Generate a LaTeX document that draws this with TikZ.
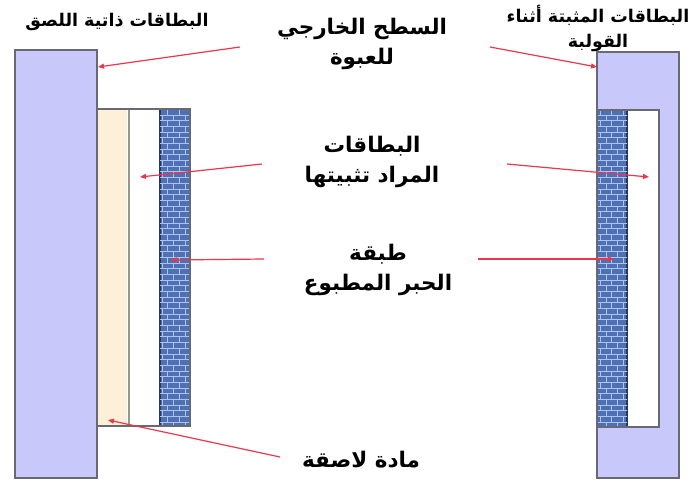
\documentclass[tikz,border=0pt]{standalone}
\usepackage{fontspec}
\newfontfamily\arabicfont[Script=Arabic]{DejaVu Sans}
\TeXXeTstate=1
\usetikzlibrary{arrows.meta,patterns}
\definecolor{lav}{RGB}{200,200,250}
\definecolor{frame}{RGB}{105,105,115}
\definecolor{cream}{RGB}{253,240,216}
\definecolor{inkblue}{RGB}{80,112,180}
\definecolor{inklight}{RGB}{170,195,240}
\definecolor{arrowred}{RGB}{235,55,75}
\tikzset{
  lbl/.style={font=\arabicfont\bfseries\fontsize{21.5}{30}\selectfont, align=center, text=black, inner sep=0pt},
  small/.style={font=\arabicfont\bfseries\fontsize{17.5}{25}\selectfont, align=center, text=black, inner sep=0pt},
  outer/.style={fill=lav, draw=frame, line width=1.6pt},
  part/.style={draw=frame, line width=1.2pt},
  ink/.style={fill=inkblue, draw={rgb,255:red,40;green,55;blue,90}, line width=1.2pt,
    postaction={pattern=bricks, pattern color=inklight}},
  pointer/.style={draw=arrowred, line width=1.2pt, -{Triangle[length=6pt,width=5pt]}},
}
\begin{document}
\begin{tikzpicture}[x=1pt,y=-1pt]
\useasboundingbox (0,0) rectangle (692,482);
\fill[white] (0,0) rectangle (692,482);
% left assembly
\draw[outer] (15,50) rectangle (97,478);
\fill[cream] (97,109) rectangle (127,426);
\fill[white] (128,109) rectangle (160,426);
\draw[draw={rgb,255:red,150;green,150;blue,140}, line width=2pt] (128.5,109) -- (128.5,426);
\draw[ink] (160,109) rectangle (190,426);
\draw[part] (97,109) rectangle (190,426);
% right assembly
\draw[outer] (597,52) rectangle (679,478);
\fill[white] (627,110) rectangle (659,427);
\draw[ink] (597,110) rectangle (627,427);
\draw[part] (597,110) rectangle (659,427);
% texts
\node[small] (t1) at (117,22) {\beginR البطاقات ذاتية اللصق\endR};
\node[lbl] (t2) at (362,44) {\beginR السطح الخارجي\endR\\\beginR للعبوة\endR};
\node[small] (t3) at (598,28) {\beginR البطاقات المثبتة أثناء\endR\\\beginR القولبة\endR};
\node[lbl] (t4) at (372,162) {\beginR البطاقات\endR\\\beginR المراد تثبيتها\endR};
\node[lbl] (t5) at (378,270) {\beginR طبقة\endR\\\beginR الحبر المطبوع\endR};
\node[lbl] (t6) at (361,460) {\beginR مادة لاصقة\endR};
% arrow coordinates
\coordinate (s1) at (240,47); \coordinate (e1) at (98,67);
\coordinate (s2) at (490,47); \coordinate (e2) at (597,67);
\coordinate (s3) at (262,164); \coordinate (e3) at (140,177);
\coordinate (s4) at (264,259); \coordinate (e4) at (171,260);
\coordinate (s5) at (507,164); \coordinate (e5) at (649,177);
\coordinate (s6) at (478,259); \coordinate (e6) at (614,259);
\coordinate (s7) at (280,457); \coordinate (e7) at (108,420);
\foreach \i in {1,...,7} {\draw[pointer] (s\i) -- (e\i);}
\end{tikzpicture}
\end{document}
